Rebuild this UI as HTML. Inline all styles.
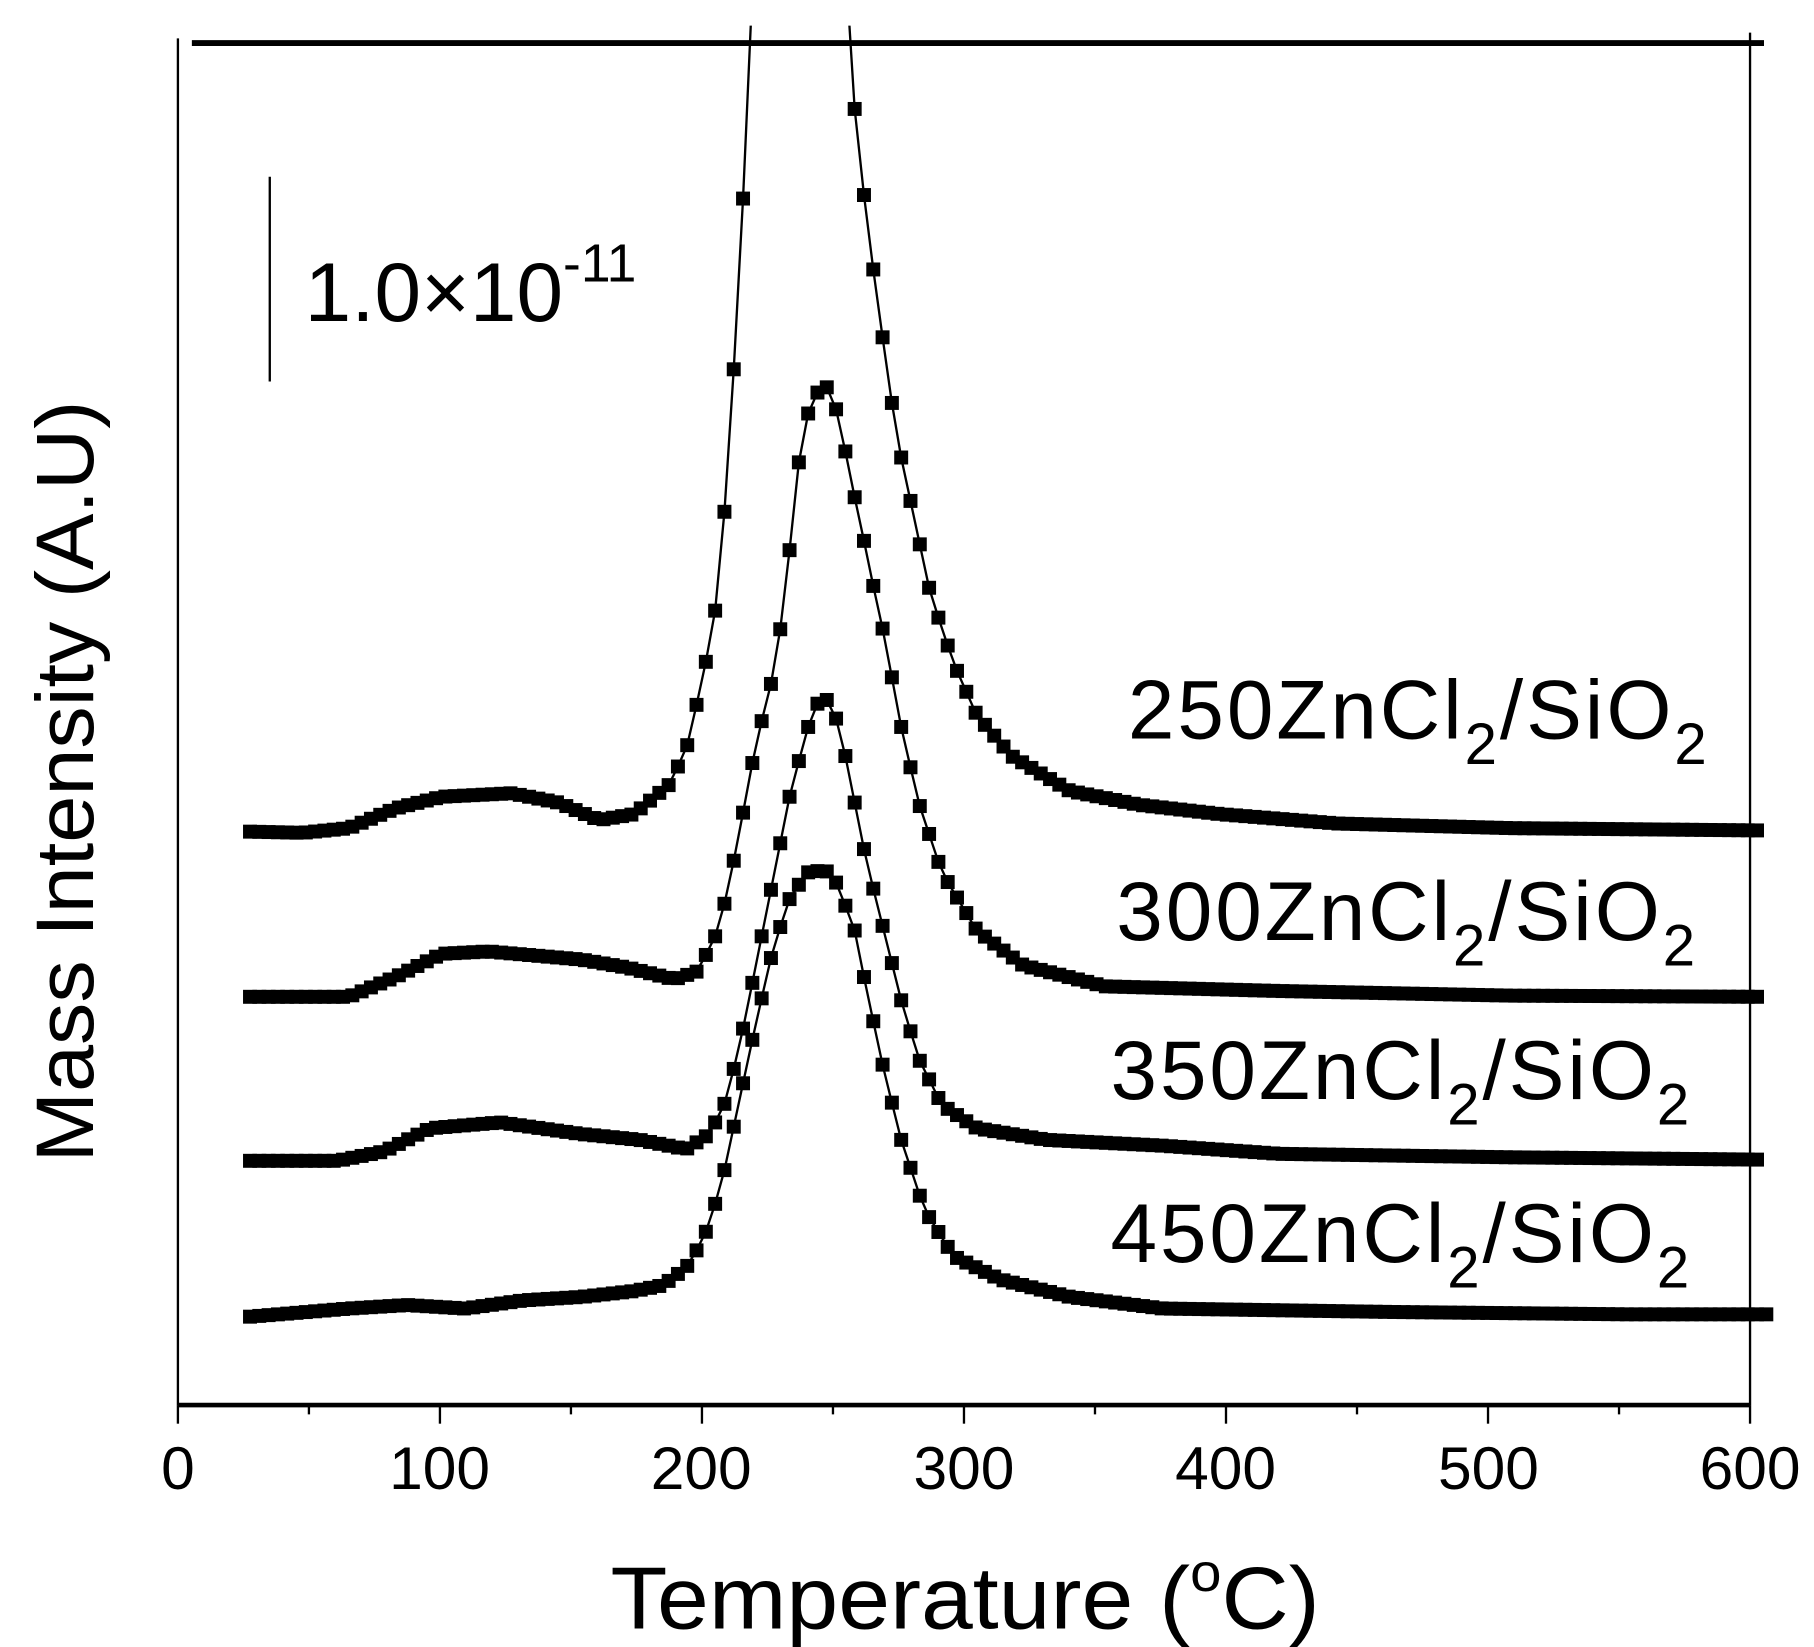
<!DOCTYPE html>
<html><head><meta charset="utf-8"><style>
html,body{margin:0;padding:0;background:#fff;}
svg{display:block;}
text{font-family:"Liberation Sans",Arial,sans-serif;fill:#000;}
</style></head><body>
<svg id="s" width="1814" height="1647" viewBox="0 0 1560 1416" preserveAspectRatio="none" xmlns="http://www.w3.org/2000/svg">
<defs><clipPath id="c"><rect x="0" y="22" width="1560" height="1400"/></clipPath></defs>
<rect width="1560" height="1416" fill="#fff"/>
<line x1="153" y1="33" x2="153" y2="1208" stroke="#000" stroke-width="2"/>
<line x1="1505" y1="28" x2="1505" y2="1208" stroke="#000" stroke-width="2"/>
<line x1="165" y1="37" x2="1517" y2="37" stroke="#000" stroke-width="5"/>
<line x1="153" y1="1208" x2="1505" y2="1208" stroke="#000" stroke-width="4"/>
<g id="ticks" stroke="#000" stroke-width="2"></g>
<g font-size="52" text-anchor="middle">
<text x="153" y="1280">0</text><text x="378" y="1280">100</text><text x="603" y="1280">200</text>
<text x="829" y="1280">300</text><text x="1054" y="1280">400</text><text x="1280" y="1280">500</text><text x="1505" y="1280">600</text>
</g>
<text x="830" y="1400" font-size="76" text-anchor="middle" textLength="610" lengthAdjust="spacingAndGlyphs">Temperature (<tspan font-size="46" dy="-32">o</tspan><tspan dy="32">C)</tspan></text>
<text transform="translate(80,672) rotate(-90)" font-size="70" text-anchor="middle" textLength="655" lengthAdjust="spacingAndGlyphs">Mass Intensity (A.U)</text>
<line x1="232" y1="152" x2="232" y2="328" stroke="#000" stroke-width="2"/>
<text x="262" y="276" font-size="72">1.0×10<tspan font-size="46" dy="-34">-11</tspan></text>
<g font-size="72" letter-spacing="2.5">
<text x="970" y="635">250ZnCl<tspan font-size="50" dy="22">2</tspan><tspan dy="-22">/SiO</tspan><tspan font-size="50" dy="22">2</tspan></text>
<text x="960" y="808">300ZnCl<tspan font-size="50" dy="22">2</tspan><tspan dy="-22">/SiO</tspan><tspan font-size="50" dy="22">2</tspan></text>
<text x="955" y="945">350ZnCl<tspan font-size="50" dy="22">2</tspan><tspan dy="-22">/SiO</tspan><tspan font-size="50" dy="22">2</tspan></text>
<text x="955" y="1085">450ZnCl<tspan font-size="50" dy="22">2</tspan><tspan dy="-22">/SiO</tspan><tspan font-size="50" dy="22">2</tspan></text>
</g>
<g id="data" clip-path="url(#c)"></g>
</svg>
<script>
var NS="http://www.w3.org/2000/svg";
var t=document.getElementById("ticks");
for(var v=0;v<=600;v+=50){var x=153+v*1352/600;var l=document.createElementNS(NS,"line");
l.setAttribute("x1",x);l.setAttribute("x2",x);l.setAttribute("y1",1208);l.setAttribute("y2",v%100==0?1224:1216);t.appendChild(l);}
var curves=[
[[215,715],[260,716],[300,712],[340,695],[380,685],[440,682],[480,690],[515,705],[545,700],[575,675],[590,645],[605,580],[615,525],[622,455],[630,335],[638,195],[645,25],[688,-700],[731,35],[737,123],[746,190],[755,265],[763,315],[770,370],[785,440],[800,510],[820,570],[840,615],[870,650],[920,680],[980,692],[1050,700],[1150,708],[1300,712],[1517,714]],
[[215,857],[300,857],[340,840],[380,820],[420,818],[500,825],[540,832],[580,842],[600,835],[615,805],[625,770],[635,720],[650,640],[665,580],[675,515],[685,410],[693,360],[705,333],[712,333],[722,360],[730,405],[740,450],[748,490],[760,545],[775,625],[790,690],[810,750],[840,800],[880,830],[950,848],[1100,852],[1300,856],[1515,857]],
[[215,998],[290,998],[330,990],[370,970],[430,965],[500,975],[550,980],[590,988],[610,975],[625,945],[640,880],[660,780],[680,680],[695,625],[705,600],[715,603],[725,640],[735,690],[745,740],[760,800],[775,860],[790,910],[810,950],[840,970],[900,980],[1000,985],[1100,992],[1300,995],[1515,997]],
[[215,1132],[300,1125],[350,1122],[400,1125],[450,1118],[500,1115],[545,1110],[570,1105],[590,1090],[605,1065],[620,1020],[635,950],[650,880],[665,815],[680,770],[695,750],[710,748],[720,760],[735,800],[745,850],[760,920],[775,980],[795,1040],[820,1080],[860,1100],[920,1115],[1000,1125],[1200,1128],[1400,1130],[1525,1130]]
];
var g=document.getElementById("data");
function interp(c,x){for(var i=0;i<c.length-1;i++){if(x>=c[i][0]&&x<=c[i+1][0]){var f=(x-c[i][0])/(c[i+1][0]-c[i][0]);return c[i][1]+f*(c[i+1][1]-c[i][1]);}}return c[c.length-1][1];}
curves.forEach(function(c){
 var pts=[];for(var x=c[0][0];x<=c[c.length-1][0]+0.1;x+=8){pts.push([x,interp(c,x)]);}
 var pl=document.createElementNS(NS,"polyline");pl.setAttribute("points",pts.map(function(p){return p[0]+","+p[1]}).join(" "));
 pl.setAttribute("fill","none");pl.setAttribute("stroke","#000");pl.setAttribute("stroke-width","2");g.appendChild(pl);
 pts.forEach(function(p){if(p[1]<25)return;var r=document.createElementNS(NS,"rect");r.setAttribute("x",p[0]-6);r.setAttribute("y",p[1]-6);r.setAttribute("width",12);r.setAttribute("height",12);g.appendChild(r);});
});
</script>
</body></html>
